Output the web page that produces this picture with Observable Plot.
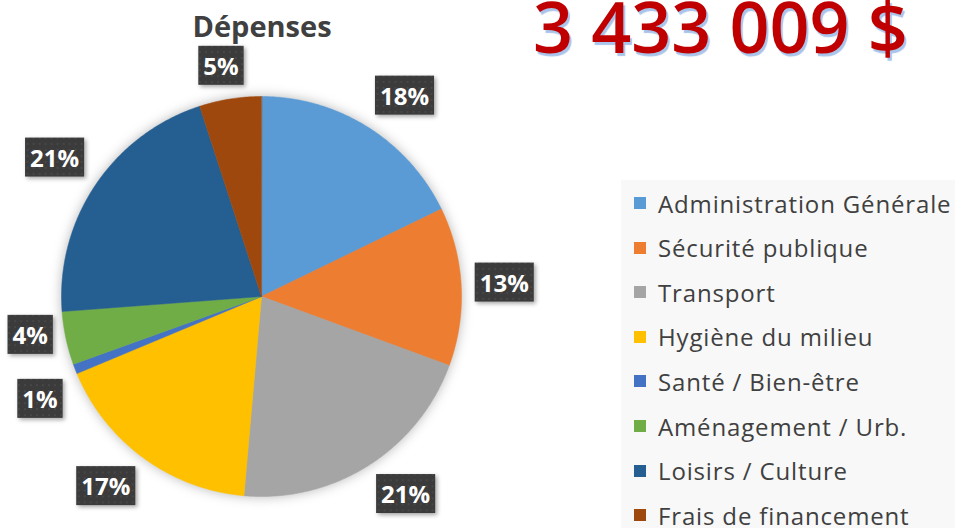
<!DOCTYPE html>
<html><head><meta charset="utf-8">
<script src="https://cdn.jsdelivr.net/npm/d3@7"></script>
<script src="https://cdn.jsdelivr.net/npm/@observablehq/plot@0.6"></script>
<style>
body{margin:0;background:#fff;font-family:"Open Sans",sans-serif;}
#wrap{position:relative;width:966px;height:528px;overflow:hidden;}
#chart{position:absolute;left:0;top:0;}
#title{position:absolute;left:0;width:524px;top:11px;text-align:center;font-weight:700;font-size:29px;color:#404040;line-height:1;}
#total{position:absolute;left:533px;top:0px;font-weight:600;font-size:70px;color:#c00000;line-height:0.77;text-shadow:2px 3px 1px #a9c4ea;white-space:nowrap;}
#legend{position:absolute;left:621px;top:180px;width:334px;height:360px;background:#f8f8f8;}
.item{position:absolute;left:13px;height:30px;display:flex;align-items:center;font-size:24px;letter-spacing:0.85px;color:#404040;white-space:nowrap;}
.sw{width:12px;height:12px;margin-right:12px;flex:none;}
#dbg{position:absolute;left:0;top:200px;font-size:12px;color:#000;}
</style></head>
<body>
<div id="wrap">
  <div id="chart"></div>
  <div id="title"></div>
  <div id="total"></div>
  <div id="legend"></div>
  <div id="dbg"></div>
</div>
<script>
const chartTitle = "Dépenses";
const totalText = "3 433 009 $";
const categories = ["Administration Générale","Sécurité publique","Transport","Hygiène du milieu","Santé / Bien-être","Aménagement / Urb.","Loisirs / Culture","Frais de financement"];
const shares = [17.8, 12.8, 20.8, 17.3, 0.8, 4.3, 21.2, 5.0];
const colors = ["#5b9bd5","#ed7d31","#a5a5a5","#ffc000","#4472c4","#70ad47","#255e91","#9e480e"];

try {
document.getElementById("title").textContent = chartTitle;
document.getElementById("total").textContent = totalText;

const sumShares = d3.sum(shares);
const pie = d3.pie().sort(null).value(d => d)(shares);

// slice polygons on the unit circle (angles clockwise from top)
const slicePts = [];
pie.forEach((p, i) => {
  const cat = categories[i];
  slicePts.push({cat, x: 0, y: 0});
  const n = Math.max(2, Math.ceil((p.endAngle - p.startAngle) / 0.01));
  for (let k = 0; k <= n; k++) {
    const t = p.startAngle + (p.endAngle - p.startAngle) * k / n;
    slicePts.push({cat, x: Math.sin(t), y: Math.cos(t)});
  }
});

// outside-end label placement (units: 1 = radius)
const px = 1 / 200;
const clamp = v => Math.max(-1, Math.min(1, v));
const labels = pie.map((p, i) => {
  const m = (p.startAngle + p.endAngle) / 2;
  const text = Math.round(shares[i] / sumShares * 100) + "%";
  const halfW = (14 * text.length + 18) / 2 * px, halfH = 19 * px;
  const r = 1 + 13 * px;
  const s = Math.sin(m), c = Math.cos(m);
  return {cat: categories[i], text, x: r * s + halfW * clamp(2 * s), y: r * c + halfH * clamp(2 * c)};
});
const minSep = 64 * px;
for (const side of [l => l.x < 0, l => l.x >= 0]) {
  const grp = labels.filter(side).sort((a, b) => b.y - a.y);
  for (let it = 0; it < 20; it++) {
    for (let j = 0; j < grp.length - 1; j++) {
      const d = grp[j].y - grp[j + 1].y;
      if (d < minSep) { const sh = (minSep - d) / 2; grp[j].y += sh; grp[j + 1].y -= sh; }
    }
  }
}

const chart = Plot.plot({
  width: 966, height: 528, margin: 0,
  x: {domain: [-1, 1], range: [61, 461], axis: null},
  y: {domain: [-1, 1], range: [496, 96], axis: null},
  color: {domain: categories, range: colors},
  marks: [
    Plot.line(slicePts, {x: "x", y: "y", z: "cat", fill: "cat", stroke: "cat", strokeWidth: 0.5, curve: "linear-closed"}),
    Plot.text(labels, {x: "x", y: "y", text: "text", fill: "white", fontWeight: "bold", fontSize: 24, fontFamily: "Open Sans"})
  ]
});
chart.style.background = "transparent";
chart.style.overflow = "visible";
document.getElementById("chart").appendChild(chart);

const NS = "http://www.w3.org/2000/svg";
const defs = document.createElementNS(NS, "defs");
defs.innerHTML = '<pattern id="dots" width="6" height="6" patternUnits="userSpaceOnUse"><rect width="6" height="6" fill="#3b3b3b"/><circle cx="3" cy="3" r="0.8" fill="#555"/></pattern>';
chart.insertBefore(defs, chart.firstChild);

const groups = chart.querySelectorAll(":scope > g");
const pieG = groups[0], labG = groups[1];
pieG.style.filter = "drop-shadow(0px 0px 6px rgba(0,0,0,0.28))";

labG.querySelectorAll("text").forEach(t => {
  const b = t.getBBox();
  const r = document.createElementNS(NS, "rect");
  const padX = 5, padY = 3;
  r.setAttribute("x", b.x - padX);
  r.setAttribute("y", b.y - padY);
  r.setAttribute("width", b.width + 2 * padX);
  r.setAttribute("height", b.height + 2 * padY);
  r.setAttribute("fill", "url(#dots)");
  r.style.filter = "drop-shadow(2px 2px 2px rgba(0,0,0,0.35))";
  const tr = t.getAttribute("transform");
  if (tr) r.setAttribute("transform", tr);
  labG.insertBefore(r, t);
});

const cs = chart.scale("color");
const leg = document.getElementById("legend");
cs.domain.forEach((c, i) => {
  const it = document.createElement("div");
  it.className = "item";
  it.style.top = (8 + i * 44.6) + "px";
  const sw = document.createElement("span");
  sw.className = "sw";
  sw.style.background = cs.range[i];
  const tx = document.createElement("span");
  tx.textContent = c;
  it.appendChild(sw); it.appendChild(tx);
  leg.appendChild(it);
});
} catch (e) { document.getElementById("dbg").textContent = "ERR " + e.message + " " + e.stack; }
</script>
</body></html>
